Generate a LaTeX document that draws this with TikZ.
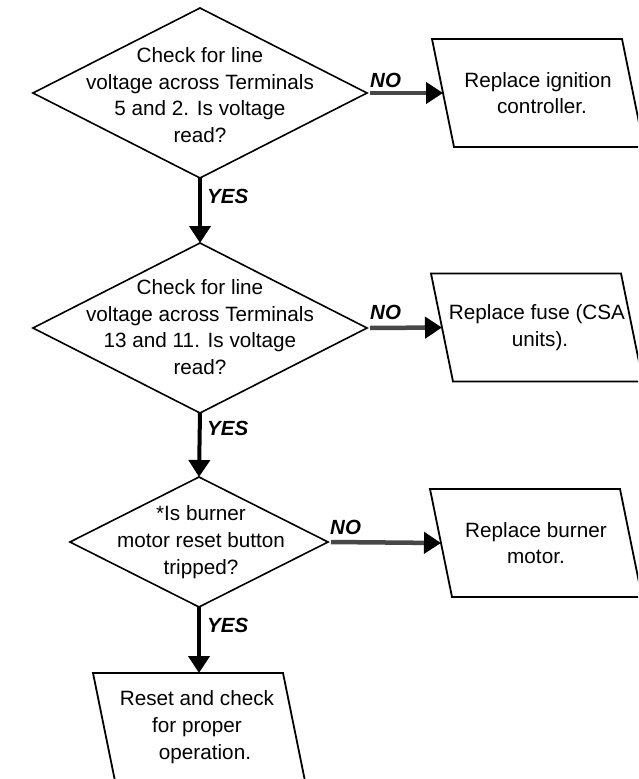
\documentclass[tikz,border=0pt]{standalone}
\usepackage{fontspec}
\setmainfont{Liberation Sans}
\usetikzlibrary{shapes.geometric,arrows.meta,calc}
\begin{document}
\begin{tikzpicture}[x=1pt,y=-1pt,
  decision/.style={draw, line width=1.6pt, shape=diamond, inner sep=0pt, outer sep=0pt},
  txt/.style={align=center, inner sep=0pt, font=\fontsize{20.7}{26.7}\selectfont},
  lbl/.style={anchor=base west, inner sep=0pt, font=\fontsize{20.5}{24}\selectfont\bfseries\itshape},
  boxline/.style={draw, line width=1.8pt, line join=miter},
  yesarrow/.style={line width=4pt, -{Triangle[length=17pt,width=21pt]}},
  noarrow/.style={line width=4.5pt, draw=black!72, -{Triangle[length=17pt,width=21pt,color=black,fill=black]}}
]
\clip (0,0) rectangle (638,779);
\fill[white] (0,0) rectangle (638,779);

% decisions
\node[decision, minimum width=334pt, minimum height=170pt] (d1) at (200,93) {};
\node[txt] at (200,95) {Check for line\\voltage across Terminals\\5 and 2. Is voltage\\read?};

\node[decision, minimum width=334pt, minimum height=170pt] (d2) at (200,328) {};
\node[txt] at (200,327) {Check for line\\voltage across Terminals\\13 and 11. Is voltage\\read?};

\node[decision, minimum width=258pt, minimum height=130pt] (d3) at (199,542) {};
\node[txt] at (201,542) {*Is burner\\motor reset button\\tripped?};

% action boxes (parallelograms)
\node[txt] (b1) at (538,93) {Replace ignition\\\hspace*{8pt}controller.};
\draw[boxline] ($(b1)+(-106,-54)$) -- ++(190,0) -- ++(22,108) -- ++(-190,0) -- cycle;
\coordinate (b1in) at ($(b1)+(-95,0)$);

\node[txt] (b2) at (537,327.5) {Replace fuse (CSA\\\hspace*{6pt}units).};
\draw[boxline] ($(b2)+(-106,-54)$) -- ++(190,0) -- ++(22,108) -- ++(-190,0) -- cycle;
\coordinate (b2in) at ($(b2)+(-95,0)$);

\node[txt] (b3) at (536,543) {Replace burner\\motor.};
\draw[boxline] ($(b3)+(-106,-54)$) -- ++(190,0) -- ++(22,108) -- ++(-190,0) -- cycle;
\coordinate (b3in) at ($(b3)+(-95,0)$);

\node[txt] (b4) at (197,727) {Reset and check\\for proper\\\hspace*{16pt}operation.};
\coordinate (b4c) at (199,727);
\draw[boxline] ($(b4c)+(-106,-54)$) -- ++(190,0) -- ++(22,108) -- ++(-190,0) -- cycle;
\coordinate (b4in) at ($(b4c)+(0,-54)$);

% YES connectors
\draw[yesarrow] (d1.south) -- (d2.north);
\draw[yesarrow] (d2.south) -- (d3.north);
\draw[yesarrow] (d3.south) -- (b4in);
\node[lbl] (y1) at (207,203) {YES};
\node[lbl] (y2) at (207,435) {YES};
\node[lbl] (y3) at (207,632) {YES};

% NO connectors
\draw[noarrow] ($(d1.east)+(3,0)$) -- (b1in);
\draw[noarrow] ($(d2.east)+(3,0)$) -- (b2in);
\draw[noarrow] ($(d3.east)+(3,0)$) -- (b3in);
\node[lbl] (n1) at (370,87) {NO};
\node[lbl] (n2) at (370,319) {NO};
\node[lbl] (n3) at (330,534) {NO};
\end{tikzpicture}
\end{document}
